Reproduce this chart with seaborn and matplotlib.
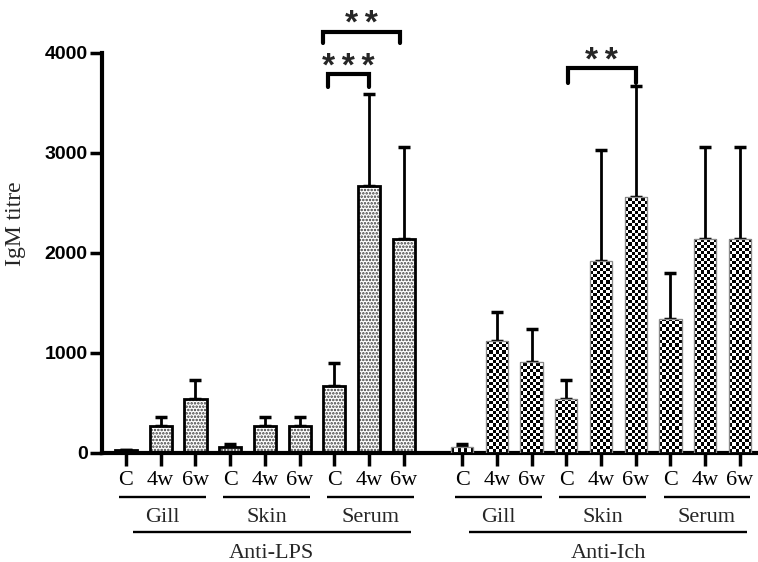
import numpy as np
import pandas as pd
import seaborn as sns
import matplotlib
matplotlib.use("Agg")
import matplotlib.pyplot as plt
from matplotlib.patches import Rectangle
from matplotlib.transforms import blended_transform_factory

# ---------------- data ----------------
antigens = ["Anti-LPS", "Anti-Ich"]
tissues = ["Gill", "Skin", "Serum"]
timepoints = ["C", "4w", "6w"]

lps_mean = [27, 267, 533, 53, 267, 267, 667, 2667, 2133]
lps_err = [0, 92, 190, 30, 92, 92, 231, 924, 924]
ich_mean = [53, 1120, 907, 533, 1920, 2560, 1333, 2133, 2133]
ich_err = [30, 283, 333, 190, 1110, 1110, 462, 924, 924]

yticks = [0, 1000, 2000, 3000, 4000]
# significance: (bar index a, bar index b, label)
sig = [(6, 7, "*\u2009*\u2009*"), (6, 8, "*\u2009*"), (12, 14, "*\u2009*")]

# ---------------- table ----------------
GAP = 0.68
rows = []
for a, (means, errs) in enumerate([(lps_mean, lps_err), (ich_mean, ich_err)]):
    for k in range(9):
        rows.append(dict(antigen=antigens[a], tissue=tissues[k // 3],
                         time=timepoints[k % 3], mean=means[k], err=errs[k],
                         pos=a * (9 + GAP) + k))
df = pd.DataFrame(rows)

sns.set_style("ticks")
plt.rcParams["hatch.linewidth"] = 1.2
SERIF = ["Liberation Serif", "DejaVu Serif"]
SANS = ["Liberation Sans", "DejaVu Sans"]

fig = plt.figure(figsize=(7.58, 5.62), dpi=100)
ax = fig.add_axes([101.7 / 758, 1 - 452.5 / 562, 1 - 101.7 / 758, (452.5 - 52.7) / 562])

sns.barplot(data=df, x="pos", y="mean", native_scale=True, width=0.64,
            color="white", errorbar=None, ax=ax, zorder=2)

ax.set_xlim(-0.70, 18.2)
ax.set_ylim(0, 4000)
fig.canvas.draw()

bars = list(ax.patches)
for i, p in enumerate(bars):
    p.set_facecolor("white")
    if df.antigen[i] == "Anti-LPS":
        p.set_hatch(".....")
        p.set_edgecolor("#3a3a3a")
        p.set_linewidth(0)
        ax.add_patch(Rectangle(p.get_xy(), p.get_width(), p.get_height(),
                               fill=False, edgecolor="black", linewidth=2.0, zorder=4))
    else:
        p.set_edgecolor("#888888")
        p.set_linewidth(0.8)
        x0, y0 = p.get_xy()
        w, h = p.get_width(), p.get_height()
        (px0, py0), (px1, py1) = ax.transData.transform([(x0, y0), (x0 + w, y0 + h)])
        ncols = 7
        cell = (px1 - px0) / ncols
        nrows = max(1, int(np.ceil((py1 - py0) / cell)))
        arr = np.indices((nrows, ncols)).sum(axis=0) % 2
        im = ax.imshow(arr, cmap="gray", vmin=0, vmax=1, origin="lower",
                       extent=(x0, x0 + w, y0, y0 + nrows * cell * h / max(py1 - py0, 1e-9)),
                       interpolation="nearest", aspect="auto", zorder=3)
        im.set_clip_path(p)
        ax.add_patch(Rectangle(p.get_xy(), w, h, fill=False,
                               edgecolor="#8a8a8a", linewidth=0.9, zorder=4))

ax.errorbar(df.pos, df["mean"], yerr=[np.zeros(len(df)), df.err], fmt="none",
            ecolor="black", elinewidth=2.0, capsize=4.4, capthick=2.5, zorder=1)

ax.set_xlim(-0.70, 18.2)
ax.set_ylim(0, 4000)

# axes styling
for s in ["top", "right"]:
    ax.spines[s].set_visible(False)
for s in ["left", "bottom"]:
    ax.spines[s].set_linewidth(3.0)
    ax.spines[s].set_color("black")
ax.spines["left"].set_bounds(0, 4000)
ax.set_yticks(yticks)
ax.set_yticklabels([str(v) for v in yticks], fontfamily=SANS, fontweight="bold", fontsize=14)
ax.set_xticks(df.pos)
ax.set_xticklabels(df.time, fontfamily=SERIF, fontsize=16)
ax.tick_params(axis="y", length=9, width=2.5, pad=1, colors="black")
ax.tick_params(axis="x", length=9, width=2.5, pad=4, colors="black")
ax.set_xlabel("")
ax.set_ylabel("")
ax.grid(False)

fig.text(15 / 758, 1 - 224 / 562, "IgM titre", rotation=90, ha="center", va="center",
         fontfamily=SERIF, fontsize=17)

# group annotations below axis
tr = blended_transform_factory(ax.transData, fig.transFigure)
pos = df.pos.values
for a in range(2):
    for t in range(3):
        first = pos[a * 9 + t * 3]
        last = pos[a * 9 + t * 3 + 2]
        x1, x2 = first - 0.2, last + 0.3
        ax.plot([x1, x2], [1 - 496.7 / 562] * 2, transform=tr, color="black",
                lw=1.7, clip_on=False, solid_capstyle="butt")
        ax.text((x1 + x2) / 2, 1 - 522.5 / 562, tissues[t], transform=tr,
                ha="center", va="baseline", fontfamily=SERIF, fontsize=16)
    first = pos[a * 9]
    last = pos[a * 9 + 8]
    x1, x2 = first + 0.2, last + 0.2
    ax.plot([x1, x2], [1 - 531.5 / 562] * 2, transform=tr, color="black",
            lw=1.7, clip_on=False, solid_capstyle="butt")
    ax.text((x1 + x2) / 2, 1 - 557.5 / 562, antigens[a], transform=tr,
            ha="center", va="baseline", fontfamily=SERIF, fontsize=16)

# significance brackets
def ypx(py):
    return (452.5 - py) * 4000 / 399.8

bracket_geom = {(6, 7): (74, 87, 76, -0.17, 0.0),
                (6, 8): (32, 43, 33, -0.33, -0.12),
                (12, 14): (68, 83, 70, 0.05, 0.0)}
for i, j, lab in sig:
    top, leg, base, dx1, dx2 = bracket_geom[(i, j)]
    xa, xb = pos[i] + dx1, pos[j] + dx2
    ax.plot([xa, xa, xb, xb], [ypx(leg), ypx(top), ypx(top), ypx(leg)],
            color="black", lw=3.0, clip_on=False, solid_joinstyle="miter", zorder=5)
    ax.text((xa + xb) / 2, ypx(base), lab, ha="center", va="baseline",
            fontfamily=SANS, fontweight="bold", fontsize=24, clip_on=False)

fig.savefig("out.png", dpi=100)
